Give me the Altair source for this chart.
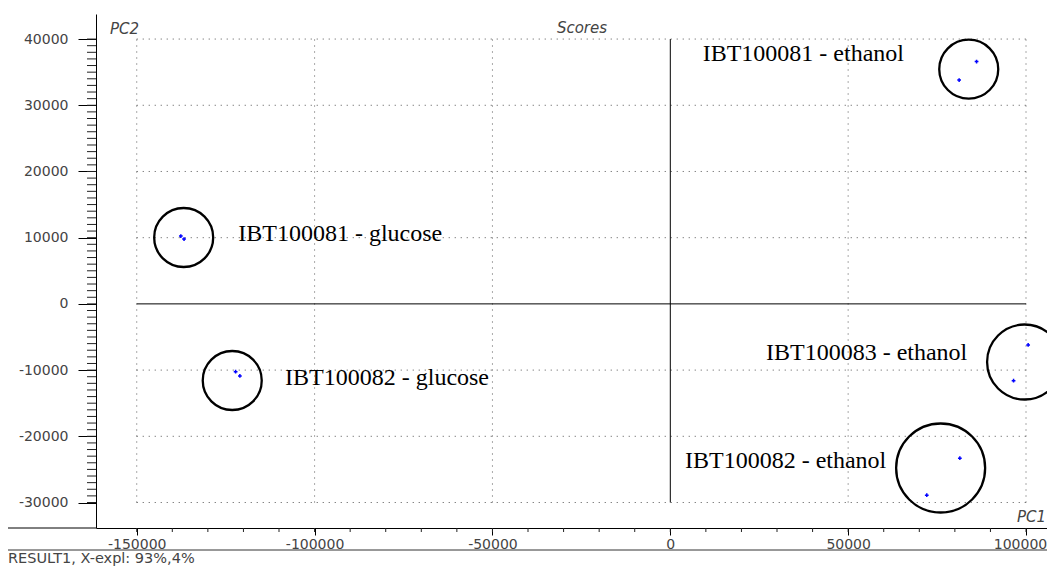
import altair as alt
import pandas as pd

# ---------------- data ----------------
groups = ["IBT100081 - ethanol", "IBT100081 - ethanol",
          "IBT100081 - glucose", "IBT100081 - glucose",
          "IBT100082 - glucose", "IBT100082 - glucose",
          "IBT100083 - ethanol", "IBT100083 - ethanol",
          "IBT100082 - ethanol", "IBT100082 - ethanol"]
pc1 = [86100, 81200, -137600, -136700, -122200, -121000, 100600, 96500, 81400, 72100]
pc2 = [36600, 33800, 10250, 9800, -10240, -10890, -6200, -11600, -23300, -28900]

ring_groups = ["IBT100081 - ethanol", "IBT100081 - glucose", "IBT100082 - glucose",
               "IBT100083 - ethanol", "IBT100082 - ethanol"]
ring_pc1 = [83900, -136800, -123150, 99600, 76000]
ring_pc2 = [35450, 10030, -11570, -8780, -24790]

label_text = ["IBT100081 - ethanol", "IBT100081 - glucose", "IBT100082 - glucose",
              "IBT100083 - ethanol", "IBT100082 - ethanol"]
label_pc1 = [9100, -121450, -108300, 26900, 4130]
label_pc2 = [36730, 9500, -12250, -8470, -24790]

x_ticks = [-150000, -100000, -50000, 0, 50000, 100000]
y_ticks = [-30000, -20000, -10000, 0, 10000, 20000, 30000, 40000]
x_minor = list(range(-150000, 100001, 10000))
y_minor = list(range(-30000, 40001, 1000))

title_text = "Scores"
x_title = "PC1"
y_title = "PC2"
footer_text = "RESULT1, X-expl: 93%,4%"

# ---------------- styling / layout ----------------
W, H = 951, 514
XDOM = [-161450, 105900]
YDOM = [-33850, 43785]
ring_diam = [59, 59, 59, 75, 89]
SANS = "DejaVu Sans"
SERIF = "Liberation Serif"
GREY = "#444444"

xs = alt.Scale(domain=XDOM, nice=False, zero=False)
ys = alt.Scale(domain=YDOM, nice=False, zero=False)

AX = alt.Axis(values=x_ticks, title=None, grid=False, tickSize=7,
              labelPadding=2, labelExpr="'' + datum.value",
              labelFont=SANS, labelFontSize=14, labelColor=GREY,
              domainColor="black", tickColor="black",
              labelFlush=False, labelOverlap=False,
              labelOffset=alt.ConditionalAxisNumber(
                  condition={"test": "datum.value == 100000", "value": -6}, value=0))
AY = alt.Axis(values=y_ticks, title=None, grid=False, tickSize=18,
              labelPadding=10, labelExpr="'' + datum.value",
              labelFont=SANS, labelFontSize=14, labelColor=GREY,
              domainColor="black", tickColor="black",
              labelFlush=False, labelOverlap=False)

pts = pd.DataFrame({"pc1": pc1, "pc2": pc2, "group": groups})
rings = pd.DataFrame({"pc1": ring_pc1, "pc2": ring_pc2, "group": ring_groups})
rings["d2"] = [d * d for d in ring_diam]
labels = pd.DataFrame({"pc1": label_pc1, "pc2": label_pc2, "text": label_text})

gx = pd.DataFrame({"x": [v for v in x_ticks if v != 0],
                   "y0": y_ticks[0], "y1": y_ticks[-1]})
gy = pd.DataFrame({"y": [v for v in y_ticks if v != 0],
                   "x0": x_ticks[0], "x1": x_ticks[-1]})
cx = pd.DataFrame({"x": [0], "y0": [y_ticks[0]], "y1": [y_ticks[-1]]})
cy = pd.DataFrame({"y": [0], "x0": [x_ticks[0]], "x1": [x_ticks[-1]]})

grid_v = alt.Chart(gx).mark_rule(color="#555555", strokeWidth=1, strokeDash=[1, 5]).encode(
    x=alt.X("x:Q", scale=xs, axis=AX),
    y=alt.Y("y0:Q", scale=ys, axis=AY), y2="y1:Q")
grid_h = alt.Chart(gy).mark_rule(color="#555555", strokeWidth=1, strokeDash=[1, 5]).encode(
    y=alt.Y("y:Q", scale=ys, axis=AY),
    x=alt.X("x0:Q", scale=xs, axis=AX), x2="x1:Q")
cross_v = alt.Chart(cx).mark_rule(color="black", strokeWidth=1).encode(
    x=alt.X("x:Q", scale=xs, axis=AX),
    y=alt.Y("y0:Q", scale=ys, axis=AY), y2="y1:Q")
cross_h = alt.Chart(cy).mark_rule(color="black", strokeWidth=1).encode(
    y=alt.Y("y:Q", scale=ys, axis=AY),
    x=alt.X("x0:Q", scale=xs, axis=AX), x2="x1:Q")

ymin = alt.Chart(pd.DataFrame({"v": y_minor})).mark_rule(color="#222222", strokeWidth=1).encode(
    y=alt.Y("v:Q", scale=ys, axis=AY), x=alt.value(-9), x2=alt.value(0))
xmin = alt.Chart(pd.DataFrame({"v": x_minor})).mark_rule(color="#222222", strokeWidth=1).encode(
    x=alt.X("v:Q", scale=xs, axis=AX), y=alt.value(H), y2=alt.value(H + 4))

ring_layer = alt.Chart(rings).mark_point(
    shape="circle", filled=False, stroke="black", strokeWidth=2.3, opacity=1).encode(
    x=alt.X("pc1:Q", scale=xs, axis=AX),
    y=alt.Y("pc2:Q", scale=ys, axis=AY),
    size=alt.Size("d2:Q", scale=None, legend=None))

point_layer = alt.Chart(pts).mark_point(
    shape="cross", filled=True, size=14, color="#0000ff", opacity=1).encode(
    x=alt.X("pc1:Q", scale=xs, axis=AX),
    y=alt.Y("pc2:Q", scale=ys, axis=AY),
    tooltip=["group:N"])

label_layer = alt.Chart(labels).mark_text(
    font=SERIF, fontSize=24, color="black", align="left", baseline="alphabetic").encode(
    x=alt.X("pc1:Q", scale=xs, axis=AX),
    y=alt.Y("pc2:Q", scale=ys, axis=AY),
    text="text:N")

one = alt.Data(values=[{"a": 1}])
title_layer = alt.Chart(one).mark_text(
    font=SANS, fontSize=15, fontStyle="italic", color=GREY, align="center",
    baseline="alphabetic").encode(x=alt.value(486), y=alt.value(18.5),
                                  text=alt.value(title_text))
ytitle_layer = alt.Chart(one).mark_text(
    font=SANS, fontSize=15, fontStyle="italic", color=GREY, align="left",
    baseline="alphabetic").encode(x=alt.value(14), y=alt.value(19.5),
                                  text=alt.value(y_title))
xtitle_layer = alt.Chart(one).mark_text(
    font=SANS, fontSize=15, fontStyle="italic", color=GREY, align="right",
    baseline="alphabetic").encode(x=alt.value(W - 1), y=alt.value(508),
                                  text=alt.value(x_title))
footer_layer = alt.Chart(one).mark_text(
    font=SANS, fontSize=14.5, color=GREY, align="left",
    baseline="alphabetic").encode(x=alt.value(-88), y=alt.value(549),
                                  text=alt.value(footer_text))
axis_ext = alt.Chart(one).mark_rule(color="black", strokeWidth=1).encode(
    x=alt.value(-88), x2=alt.value(0), y=alt.value(H))
bottom_line = alt.Chart(one).mark_rule(color="#333333", strokeWidth=1).encode(
    x=alt.value(-88), x2=alt.value(W), y=alt.value(H + 22))

chart = alt.layer(
    grid_v, grid_h, cross_v, cross_h, ymin, xmin,
    ring_layer, point_layer, label_layer,
    title_layer, ytitle_layer, xtitle_layer, footer_layer, axis_ext, bottom_line
).properties(
    width=W, height=H,
    autosize=alt.AutoSizeParams(type="none"),
    padding={"left": 88, "top": 6, "right": 0, "bottom": 38},
    background="white",
).configure_view(stroke=None)

chart.save("out.html", embed_options={"renderer": "svg", "actions": False})
